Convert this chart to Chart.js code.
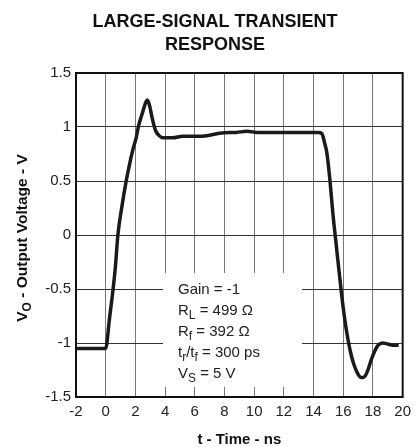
<!DOCTYPE html>
<html>
<head>
<meta charset="utf-8">
<script src="https://cdn.jsdelivr.net/npm/chart.js@4.4.0/dist/chart.umd.min.js"></script>
<style>
  html, body { margin: 0; padding: 0; background: #fff; }
  #wrap { width: 417px; height: 447px; position: relative; }
</style>
</head>
<body>
<div id="wrap"><canvas id="c" width="417" height="447"></canvas></div>
<script>
// ---- data ----
const timeNs = [-2, -1, -0.2, 0, 0.25, 0.49, 0.65, 0.82, 1.1, 1.38, 1.6, 1.83, 2.05, 2.23, 2.45, 2.65, 2.8, 2.95, 3.15, 3.35, 3.6, 3.85, 4.5, 5.2, 6.5, 7.8, 8.8, 9.5, 10.2, 11.5, 12.5, 13.5, 14.3, 14.55, 14.75, 14.9, 15.1, 15.3, 15.54, 15.88, 16.1, 16.32, 16.55, 16.77, 17.0, 17.2, 17.35, 17.5, 17.66, 17.9, 18.1, 18.35, 18.66, 19.0, 19.33, 19.73];
const voltage = [-1.05, -1.05, -1.05, -1.05, -0.78, -0.51, -0.3, 0.0, 0.27, 0.5, 0.65, 0.79, 0.9, 1.02, 1.12, 1.21, 1.25, 1.2, 1.07, 0.97, 0.92, 0.9, 0.9, 0.915, 0.915, 0.945, 0.95, 0.96, 0.95, 0.948, 0.948, 0.948, 0.948, 0.94, 0.85, 0.757, 0.51, 0.2, -0.11, -0.54, -0.78, -0.97, -1.12, -1.22, -1.29, -1.32, -1.32, -1.3, -1.25, -1.15, -1.08, -1.02, -1.0, -1.01, -1.02, -1.02];
const xTicks = [-2, 0, 2, 4, 6, 8, 10, 12, 14, 16, 18, 20];
const yTicks = [-1.5, -1, -0.5, 0, 0.5, 1, 1.5];
const titleLines = ["LARGE-SIGNAL TRANSIENT", "RESPONSE"];
const xTitle = "t - Time - ns";
const yTitleParts = [["V", false], ["O", true], [" - Output Voltage - V", false]];
// annotation lines: segments [text, isSubscript]
const noteLines = [
  [["Gain = -1", false]],
  [["R", false], ["L", true], [" = 499 Ω", false]],
  [["R", false], ["f", true], [" = 392 Ω", false]],
  [["t", false], ["r", true], ["/t", false], ["f", true], [" = 300 ps", false]],
  [["V", false], ["S", true], [" = 5 V", false]]
];

const FONT = "'Liberation Sans', Arial, Helvetica, sans-serif";
const pts = timeNs.map((t, i) => ({ x: t, y: voltage[i] }));

const decor = {
  id: 'decor',
  beforeDatasetsDraw(chart) {
    const ctx = chart.ctx;
    const bx0 = 163, bx1 = 302, by0 = 273, by1 = 387;
    ctx.save();
    ctx.fillStyle = '#fff';
    ctx.fillRect(bx0, by0, bx1 - bx0, by1 - by0);
    ctx.fillStyle = '#222';
    ctx.textBaseline = 'alphabetic';
    let y = 294;
    for (const line of noteLines) {
      let x = 178;
      for (const [txt, sub] of line) {
        ctx.font = (sub ? 12 : 15) + "px " + FONT;
        ctx.fillText(txt, x, sub ? y + 3.5 : y);
        x += ctx.measureText(txt).width;
      }
      y += 21;
    }
    ctx.restore();
  },
  afterDraw(chart) {
    const ctx = chart.ctx;
    const a = chart.chartArea;
    ctx.save();
    ctx.strokeStyle = '#111';
    ctx.lineWidth = 2;
    ctx.strokeRect(a.left, a.top, a.right - a.left, a.bottom - a.top);
    // title
    ctx.fillStyle = '#111';
    ctx.font = "bold 18px " + FONT;
    ctx.textAlign = 'center';
    ctx.textBaseline = 'alphabetic';
    ctx.fillText(titleLines[0], 215, 27);
    ctx.fillText(titleLines[1], 215, 50);
    // x title
    ctx.font = "bold 15px " + FONT;
    ctx.fillText(xTitle, (a.left + a.right) / 2, 444);
    // y title with subscript
    ctx.translate(27, (a.top + a.bottom) / 2 + 3);
    ctx.rotate(-Math.PI / 2);
    const fz = s => "bold " + (s ? 12 : 15.5) + "px " + FONT;
    let total = 0;
    for (const [t, s] of yTitleParts) { ctx.font = fz(s); total += ctx.measureText(t).width; }
    let x = -total / 2;
    ctx.textAlign = 'left';
    for (const [t, s] of yTitleParts) {
      ctx.font = fz(s);
      ctx.fillText(t, x, s ? 4 : 0);
      x += ctx.measureText(t).width;
    }
    ctx.restore();
  }
};

new Chart(document.getElementById('c'), {
  type: 'line',
  data: {
    datasets: [{
      data: pts,
      borderColor: '#1a1a1a',
      borderWidth: 3.5,
      pointRadius: 0,
      cubicInterpolationMode: 'monotone',
      fill: false
    }]
  },
  options: {
    responsive: false,
    animation: false,
    devicePixelRatio: 1,
    layout: { padding: { top: 73, right: 12, left: 0, bottom: 0 } },
    plugins: { legend: { display: false }, tooltip: { enabled: false }, title: { display: false } },
    scales: {
      x: {
        type: 'linear', min: -2, max: 20,
        afterBuildTicks: s => { s.ticks = xTicks.map(v => ({ value: v })); },
        afterFit: s => { s.height = 50; },
        grid: { color: '#777', lineWidth: 1, drawTicks: false },
        border: { display: true, color: '#111', width: 2 },
        ticks: { color: '#222', font: { family: FONT, size: 15 }, padding: 6, maxRotation: 0, autoSkip: false,
                 callback: v => String(v) }
      },
      y: {
        type: 'linear', min: -1.5, max: 1.5,
        afterBuildTicks: s => { s.ticks = yTicks.map(v => ({ value: v })); },
        afterFit: s => { s.width = 76; },
        grid: { color: '#333', lineWidth: 1, drawTicks: false },
        border: { display: true, color: '#111', width: 2 },
        ticks: { color: '#222', font: { family: FONT, size: 15 }, padding: 5, autoSkip: false,
                 callback: v => String(v) }
      }
    }
  },
  plugins: [decor]
});
</script>
</body>
</html>
